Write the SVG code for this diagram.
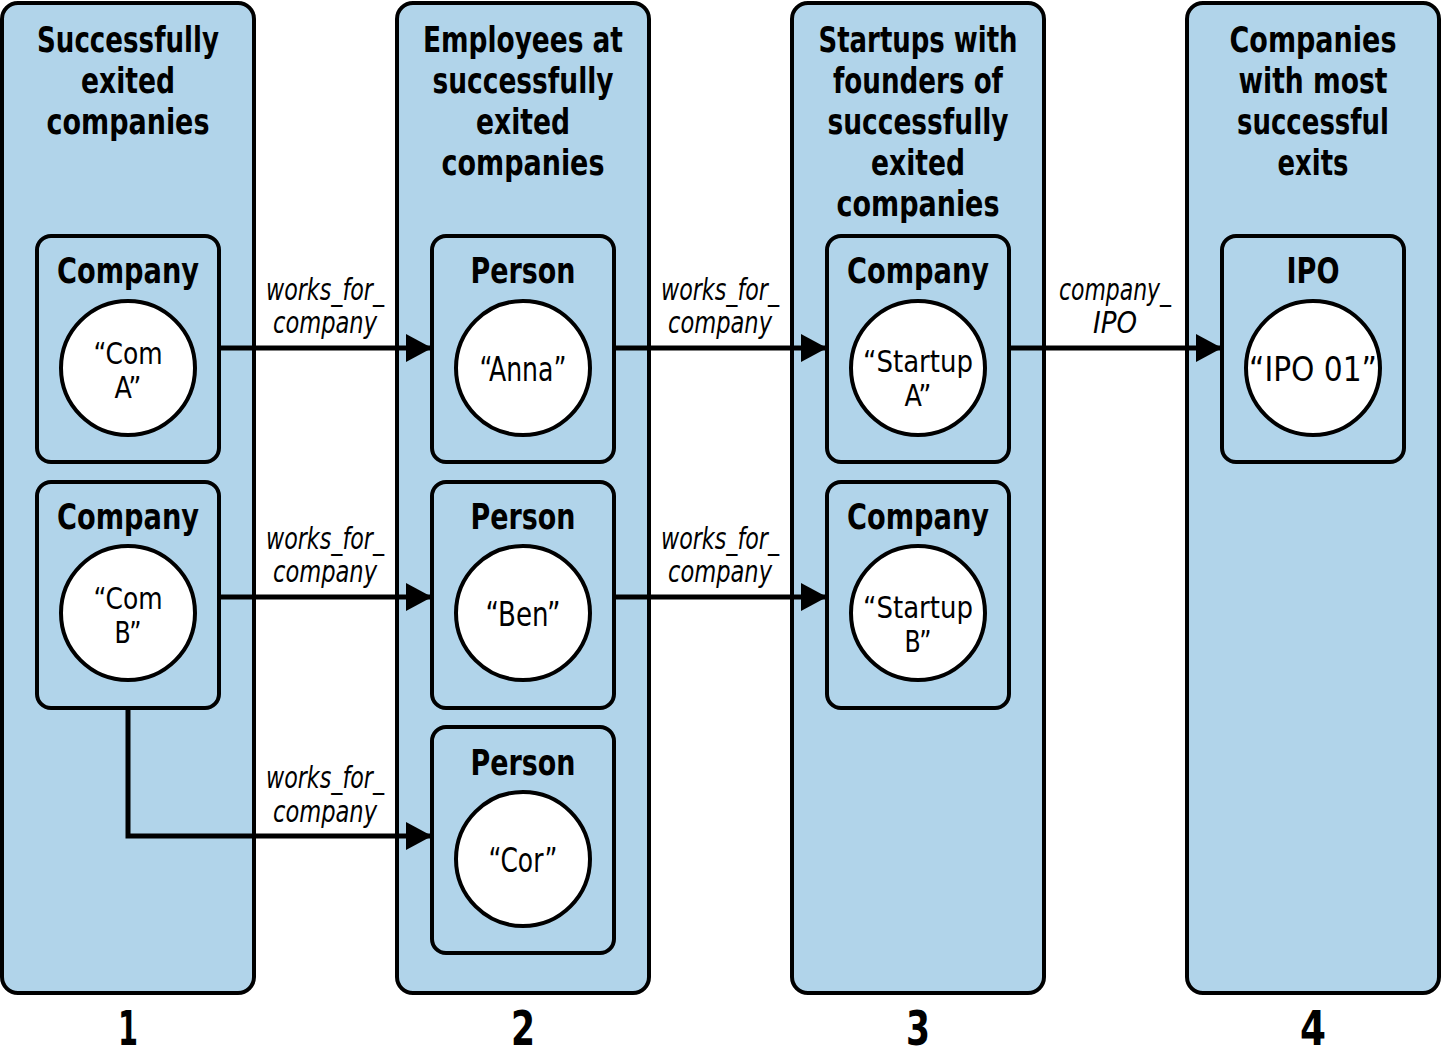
<svg xmlns="http://www.w3.org/2000/svg" width="1442" height="1061" viewBox="0 0 1442 1061">
<defs>
<style>
text{font-family:"DejaVu Sans Condensed","DejaVu Sans",sans-serif;fill:#000;text-anchor:middle}
.col{fill:#b1d4ea;stroke:#000;stroke-width:4}
.box{fill:#b1d4ea;stroke:#000;stroke-width:4}
.val{fill:#fff;stroke:#000;stroke-width:4}
.title{font-size:36px;font-weight:bold}
.lbl{font-size:36px;font-weight:bold}
.v{font-size:34px}
.v2{font-size:31px}
.e{font-size:30px;font-style:italic}
.num{font-size:48px;font-weight:bold}
.edge{fill:none;stroke:#000;stroke-width:5}
</style>
<marker id="ah" viewBox="0 0 26 28" refX="26" refY="14" markerWidth="26" markerHeight="28" markerUnits="userSpaceOnUse" orient="auto">
<path d="M0,0 L26,14 L0,28 Z" fill="#000"/>
</marker>
</defs>
<rect width="1442" height="1061" fill="#fff"/>

<g id="col1">
<rect class="col" x="2" y="3" width="252" height="990" rx="16"/>
<text class="title" x="128" y="52" textLength="182" lengthAdjust="spacingAndGlyphs">Successfully</text>
<text class="title" x="128" y="93" textLength="94" lengthAdjust="spacingAndGlyphs">exited</text>
<text class="title" x="128" y="134" textLength="163" lengthAdjust="spacingAndGlyphs">companies</text>
<text class="num" x="128" y="1045" textLength="20" lengthAdjust="spacingAndGlyphs">1</text>
</g>
<g id="col2">
<rect class="col" x="397" y="3" width="252" height="990" rx="16"/>
<text class="title" x="523" y="52" textLength="200" lengthAdjust="spacingAndGlyphs">Employees at</text>
<text class="title" x="523" y="93" textLength="181" lengthAdjust="spacingAndGlyphs">successfully</text>
<text class="title" x="523" y="134" textLength="94" lengthAdjust="spacingAndGlyphs">exited</text>
<text class="title" x="523" y="175" textLength="163" lengthAdjust="spacingAndGlyphs">companies</text>
<text class="num" x="523" y="1045" textLength="24" lengthAdjust="spacingAndGlyphs">2</text>
</g>
<g id="col3">
<rect class="col" x="792" y="3" width="252" height="990" rx="16"/>
<text class="title" x="918" y="52" textLength="199" lengthAdjust="spacingAndGlyphs">Startups with</text>
<text class="title" x="918" y="93" textLength="170" lengthAdjust="spacingAndGlyphs">founders of</text>
<text class="title" x="918" y="134" textLength="181" lengthAdjust="spacingAndGlyphs">successfully</text>
<text class="title" x="918" y="175" textLength="94" lengthAdjust="spacingAndGlyphs">exited</text>
<text class="title" x="918" y="216" textLength="163" lengthAdjust="spacingAndGlyphs">companies</text>
<text class="num" x="918" y="1045" textLength="24" lengthAdjust="spacingAndGlyphs">3</text>
</g>
<g id="col4">
<rect class="col" x="1187" y="3" width="252" height="990" rx="16"/>
<text class="title" x="1313" y="52" textLength="167" lengthAdjust="spacingAndGlyphs">Companies</text>
<text class="title" x="1313" y="93" textLength="149" lengthAdjust="spacingAndGlyphs">with most</text>
<text class="title" x="1313" y="134" textLength="152" lengthAdjust="spacingAndGlyphs">successful</text>
<text class="title" x="1313" y="175" textLength="71" lengthAdjust="spacingAndGlyphs">exits</text>
<text class="num" x="1313" y="1045" textLength="26" lengthAdjust="spacingAndGlyphs">4</text>
</g>

<g id="comA">
<rect class="box" x="37" y="236" width="182" height="226" rx="14"/>
<text class="lbl" x="128" y="283" textLength="142" lengthAdjust="spacingAndGlyphs">Company</text>
<circle class="val" cx="128" cy="368" r="67"/>
<text class="v2" x="128" y="364" textLength="69" lengthAdjust="spacingAndGlyphs">“Com</text>
<text class="v2" x="128" y="398" textLength="27" lengthAdjust="spacingAndGlyphs">A”</text>
</g>
<g id="comB">
<rect class="box" x="37" y="482" width="182" height="226" rx="14"/>
<text class="lbl" x="128" y="529" textLength="142" lengthAdjust="spacingAndGlyphs">Company</text>
<circle class="val" cx="128" cy="613" r="67"/>
<text class="v2" x="128" y="609" textLength="69" lengthAdjust="spacingAndGlyphs">“Com</text>
<text class="v2" x="128" y="643" textLength="27" lengthAdjust="spacingAndGlyphs">B”</text>
</g>
<g id="anna">
<rect class="box" x="432" y="236" width="182" height="226" rx="14"/>
<text class="lbl" x="523" y="283" textLength="105" lengthAdjust="spacingAndGlyphs">Person</text>
<circle class="val" cx="523" cy="368" r="67"/>
<text class="v" x="523" y="381" textLength="87" lengthAdjust="spacingAndGlyphs">“Anna”</text>
</g>
<g id="ben">
<rect class="box" x="432" y="482" width="182" height="226" rx="14"/>
<text class="lbl" x="523" y="529" textLength="105" lengthAdjust="spacingAndGlyphs">Person</text>
<circle class="val" cx="523" cy="613" r="67"/>
<text class="v" x="523" y="626" textLength="75" lengthAdjust="spacingAndGlyphs">“Ben”</text>
</g>
<g id="cor">
<rect class="box" x="432" y="727" width="182" height="226" rx="14"/>
<text class="lbl" x="523" y="775" textLength="105" lengthAdjust="spacingAndGlyphs">Person</text>
<circle class="val" cx="523" cy="859" r="67"/>
<text class="v" x="523" y="872" textLength="69" lengthAdjust="spacingAndGlyphs">“Cor”</text>
</g>
<g id="startupA">
<rect class="box" x="827" y="236" width="182" height="226" rx="14"/>
<text class="lbl" x="918" y="283" textLength="142" lengthAdjust="spacingAndGlyphs">Company</text>
<circle class="val" cx="918" cy="368" r="67"/>
<text class="v2" x="918" y="372" textLength="110" lengthAdjust="spacingAndGlyphs">“Startup</text>
<text class="v2" x="918" y="406" textLength="27" lengthAdjust="spacingAndGlyphs">A”</text>
</g>
<g id="startupB">
<rect class="box" x="827" y="482" width="182" height="226" rx="14"/>
<text class="lbl" x="918" y="529" textLength="142" lengthAdjust="spacingAndGlyphs">Company</text>
<circle class="val" cx="918" cy="613" r="67"/>
<text class="v2" x="918" y="618" textLength="110" lengthAdjust="spacingAndGlyphs">“Startup</text>
<text class="v2" x="918" y="652" textLength="27" lengthAdjust="spacingAndGlyphs">B”</text>
</g>
<g id="ipo">
<rect class="box" x="1222" y="236" width="182" height="226" rx="14"/>
<text class="lbl" x="1313" y="283" textLength="53" lengthAdjust="spacingAndGlyphs">IPO</text>
<circle class="val" cx="1313" cy="368" r="67"/>
<text class="v" x="1313" y="381" textLength="128" lengthAdjust="spacingAndGlyphs">“IPO 01”</text>
</g>

<g id="connectors">
<path class="edge" d="M219,348 H432" marker-end="url(#ah)"/>
<path class="edge" d="M219,597 H432" marker-end="url(#ah)"/>
<path class="edge" d="M128,708 V836 H432" marker-end="url(#ah)"/>
<path class="edge" d="M614,348 H827" marker-end="url(#ah)"/>
<path class="edge" d="M614,597 H827" marker-end="url(#ah)"/>
<path class="edge" d="M1009,348 H1222" marker-end="url(#ah)"/>
<text class="e" x="325" y="300" textLength="118" lengthAdjust="spacingAndGlyphs">works_for_</text>
<text class="e" x="325" y="333" textLength="104" lengthAdjust="spacingAndGlyphs">company</text>
<text class="e" x="325" y="549" textLength="118" lengthAdjust="spacingAndGlyphs">works_for_</text>
<text class="e" x="325" y="582" textLength="104" lengthAdjust="spacingAndGlyphs">company</text>
<text class="e" x="325" y="788" textLength="118" lengthAdjust="spacingAndGlyphs">works_for_</text>
<text class="e" x="325" y="822" textLength="104" lengthAdjust="spacingAndGlyphs">company</text>
<text class="e" x="720" y="300" textLength="118" lengthAdjust="spacingAndGlyphs">works_for_</text>
<text class="e" x="720" y="333" textLength="104" lengthAdjust="spacingAndGlyphs">company</text>
<text class="e" x="720" y="549" textLength="118" lengthAdjust="spacingAndGlyphs">works_for_</text>
<text class="e" x="720" y="582" textLength="104" lengthAdjust="spacingAndGlyphs">company</text>
<text class="e" x="1115" y="300" textLength="112" lengthAdjust="spacingAndGlyphs">company_</text>
<text class="e" x="1115" y="333" textLength="44" lengthAdjust="spacingAndGlyphs">IPO</text>
</g>
</svg>
